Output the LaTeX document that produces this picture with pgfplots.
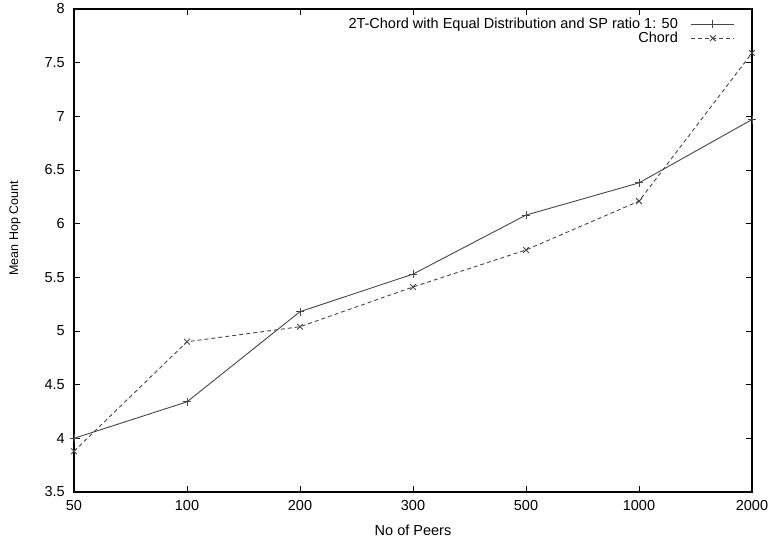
\documentclass[border=0pt]{standalone}
\usepackage{pgfplots}
\pgfplotsset{compat=1.18}
\usepackage{fontspec}
\setmainfont{Liberation Sans}
\definecolor{ln}{RGB}{70,70,70}
\begin{document}
\begin{tikzpicture}
\begin{axis}[
  scale only axis, width=678pt, height=483pt,
  xmin=0, xmax=6, ymin=3.5, ymax=8,
  xtick={0,1,2,3,4,5,6},
  xticklabels={50,100,200,300,500,1000,2000},
  ytick={3.5,4,4.5,5,5.5,6,6.5,7,7.5,8},
  yticklabels={3.5,4,4.5,5,5.5,6,6.5,7,7.5,8},
  axis line style={line width=1.4pt, black},
  tick style={line width=0.8pt, black},
  major tick length=6pt,
  tick align=inside,
  ticklabel style={font=\fontsize{14.5}{16}\selectfont, inner sep=0pt},
  xticklabel style={yshift=-8pt},
  yticklabel style={xshift=-9pt},
  xlabel={No of Peers},
  xlabel style={at={(axis description cs:0.5,-0.0683)}, anchor=north, inner sep=0pt, font=\fontsize{14.5}{16}\selectfont},
  ylabel={Mean Hop Count},
  ylabel style={at={(axis description cs:-0.087,0.546)}, anchor=center, inner sep=0pt, font=\fontsize{12.5}{14}\selectfont},
  legend style={draw=none, fill=none, at={(rel axis cs:1,1)}, xshift=-17pt, yshift=-8pt, anchor=north east, font=\fontsize{14.5}{16}\selectfont, row sep=0pt, column sep=12pt, nodes={inner sep=1pt}, inner sep=0pt},
  legend plot pos=right,
  legend cell align=right,
  legend image code/.code={\draw[mark repeat=2, mark phase=2, #1] plot coordinates {(0pt,0pt) (21.5pt,0pt) (43pt,0pt)};},
]
\addplot[ln, line width=0.9pt, mark=+, mark size=4pt, mark options={solid}] coordinates {
  (0,4.0) (1,4.34) (2,5.18) (3,5.53) (4,6.08) (5,6.38) (6,6.97)};
\addlegendentry{2T-Chord with Equal Distribution and SP ratio 1: 50}
\addplot[ln, line width=0.9pt, dash pattern=on 4pt off 3pt, mark=x, mark size=4pt, mark options={solid}] coordinates {
  (0,3.88) (1,4.9) (2,5.04) (3,5.41) (4,5.755) (5,6.21) (6,7.59)};
\addlegendentry{Chord}
\end{axis}
\pgfresetboundingbox
\path (current axis.south west) ++(-74pt,-50pt) rectangle ++(769pt,542pt);
\end{tikzpicture}
\end{document}
